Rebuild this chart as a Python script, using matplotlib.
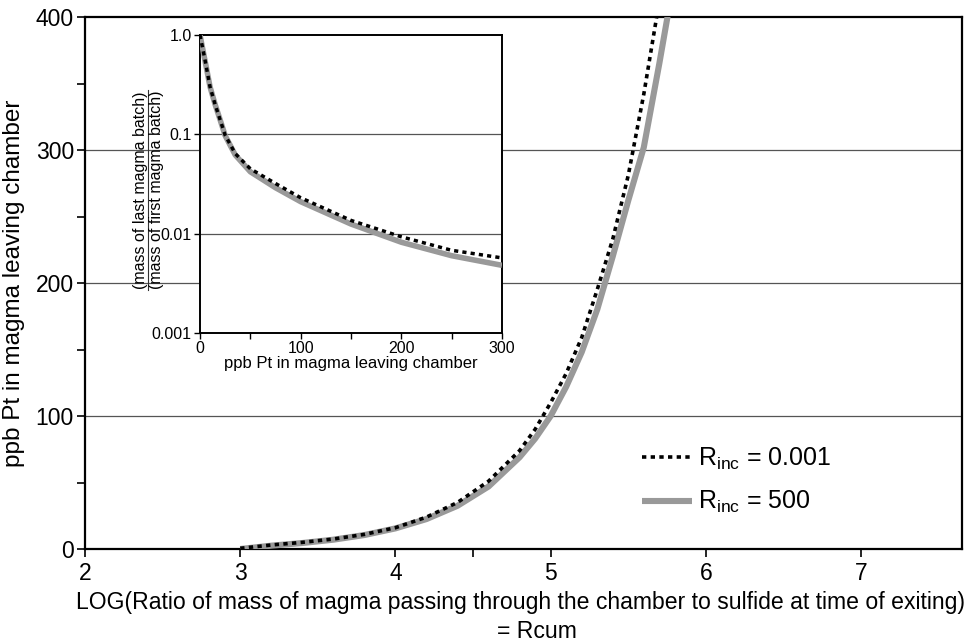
import matplotlib
matplotlib.use('Agg')
import matplotlib.pyplot as plt
from matplotlib import font_manager
from matplotlib.ticker import FixedLocator, NullLocator, FixedFormatter, NullFormatter

# ---------------- data ----------------
# main plot: LOG(Rcum) vs ppb Pt
main_x_dot = [3.0, 3.2, 3.4, 3.6, 3.8, 4.0, 4.2, 4.4, 4.6, 4.8, 4.9, 5.0, 5.1, 5.2, 5.3, 5.4, 5.5, 5.6, 5.69]
main_y_dot = [0.5, 3, 5, 7.5, 11, 16, 24, 35, 51, 74, 90, 110, 132, 159, 195, 233, 281, 342, 405]
main_x_grey = [3.0, 3.2, 3.4, 3.6, 3.8, 4.0, 4.2, 4.4, 4.6, 4.8, 4.9, 5.0, 5.1, 5.2, 5.3, 5.4, 5.5, 5.6, 5.7, 5.76]
main_y_grey = [0, 2.5, 4.5, 7, 10.5, 15.5, 22.5, 32.5, 47, 69, 83, 100, 122, 148, 180, 220, 262, 302, 365, 405]

# inset: ppb Pt vs mass ratio
ins_x = [0, 5, 10, 15, 20, 25, 35, 50, 75, 100, 150, 200, 250, 300]
ins_y_dot = [1.0, 0.56, 0.30, 0.20, 0.14, 0.098, 0.064, 0.045, 0.032, 0.023, 0.0136, 0.0093, 0.0068, 0.0057]
ins_y_grey = [1.0, 0.55, 0.30, 0.20, 0.14, 0.097, 0.062, 0.042, 0.029, 0.021, 0.0125, 0.0082, 0.0060, 0.0048]

main_xticks = [2, 3, 4, 5, 6, 7]
main_xminor = [4.5]
main_yticks = [0, 100, 200, 300, 400]
main_yminor = [50, 150, 250, 350]
ins_xticks = [0, 100, 200, 300]
ins_xminor = [50, 150, 250]
ins_yticks = [0.001, 0.01, 0.1, 1.0]
ins_ylabels = ['0.001', '0.01', '0.1', '1.0']

labels = ['R$_{\\mathrm{inc}}$ = 0.001', 'R$_{\\mathrm{inc}}$ = 500']

# ---------------- fonts ----------------
names = {f.name for f in font_manager.fontManager.ttflist}
regular = 'Liberation Sans' if 'Liberation Sans' in names else 'DejaVu Sans'
narrow = 'Liberation Sans Narrow' if 'Liberation Sans Narrow' in names else regular
plt.rcParams['font.family'] = [regular, 'DejaVu Sans']
plt.rcParams['mathtext.fontset'] = 'custom'
plt.rcParams['mathtext.rm'] = regular
plt.rcParams['mathtext.it'] = regular
plt.rcParams['mathtext.bf'] = regular

GREY = '#999999'
GRIDC = '#555555'

fig = plt.figure(figsize=(9.75, 6.44), dpi=100)
ax = fig.add_axes([85/975, 1-549/644, 877/975, 532/644])

for v in [100, 200, 300]:
    ax.axhline(v, color=GRIDC, lw=0.9, zorder=1)
l_grey, = ax.plot(main_x_grey, main_y_grey, color=GREY, lw=4.4, solid_capstyle='butt', zorder=3)
l_dot, = ax.plot(main_x_dot, main_y_dot, color='black', lw=2.6, linestyle=(0, (1.2, 1.2)),
                 dash_capstyle='butt', zorder=4)
ax.set_xlim(2, 7.65)
ax.set_ylim(0, 400)
ax.xaxis.set_major_locator(FixedLocator(main_xticks))
ax.xaxis.set_minor_locator(FixedLocator(main_xminor))
ax.yaxis.set_major_locator(FixedLocator(main_yticks))
ax.yaxis.set_minor_locator(FixedLocator(main_yminor))
for s in ax.spines.values():
    s.set_linewidth(1.6)
ax.tick_params(which='both', direction='out', length=6, width=1.2, top=False, right=False)
ax.tick_params(axis='x', labelsize=16.5, pad=3)
ax.tick_params(axis='y', labelsize=16.5, pad=2)
ax.set_ylabel('ppb Pt in magma leaving chamber', fontsize=17.5, labelpad=8)

fig.text(521/975, 1-603/644, 'LOG(Ratio of mass of magma passing through the chamber to sulfide at time of exiting)',
         ha='center', va='center', fontsize=16.6, family=narrow)
fig.text(537/975, 1-632/644, '= Rcum', ha='center', va='center', fontsize=16.6, family=narrow)

leg = ax.legend([l_dot, l_grey], labels, loc='center left',
                bbox_to_anchor=(642/975, 1-480.5/644), bbox_transform=fig.transFigure,
                frameon=False, fontsize=18, handlelength=2.0, handletextpad=0.25,
                labelspacing=0.7, borderpad=0, borderaxespad=0)

# ---------------- inset ----------------
ins = fig.add_axes([200/975, 1-333/644, 302/975, 298/644])
ins.set_zorder(5)
ins.set_facecolor('white')
for v in [0.01, 0.1]:
    ins.axhline(v, color=GRIDC, lw=0.9, zorder=1)
ins.plot(ins_x, ins_y_grey, color=GREY, lw=4.0, solid_capstyle='butt', zorder=3)
ins.plot(ins_x, ins_y_dot, color='black', lw=2.5, linestyle=(0, (1.2, 1.2)),
         dash_capstyle='butt', zorder=4)
ins.set_yscale('log')
ins.set_xlim(0, 300)
ins.set_ylim(0.001, 1.0)
ins.xaxis.set_major_locator(FixedLocator(ins_xticks))
ins.xaxis.set_minor_locator(FixedLocator(ins_xminor))
ins.yaxis.set_major_locator(FixedLocator(ins_yticks))
ins.yaxis.set_major_formatter(FixedFormatter(ins_ylabels))
ins.yaxis.set_minor_locator(NullLocator())
ins.yaxis.set_minor_formatter(NullFormatter())
for s in ins.spines.values():
    s.set_linewidth(1.4)
ins.tick_params(which='both', direction='out', length=4, width=1.0, labelsize=11.5, pad=2)
ins.set_xlabel('ppb Pt in magma leaving chamber', fontsize=12, labelpad=0)

# fraction y label of inset
fig.text(140/975, 1-190/644, '(mass of last magma batch)', rotation=90, ha='center', va='center',
         fontsize=11.5, family=narrow)
fig.text(156/975, 1-190/644, '(mass of first magma batch)', rotation=90, ha='center', va='center',
         fontsize=11.5, family=narrow)
fig.add_artist(plt.Line2D([147.5/975, 147.5/975], [1-290/644, 1-90/644], color='#333333', lw=0.8))

fig.savefig('out.png', dpi=100)
